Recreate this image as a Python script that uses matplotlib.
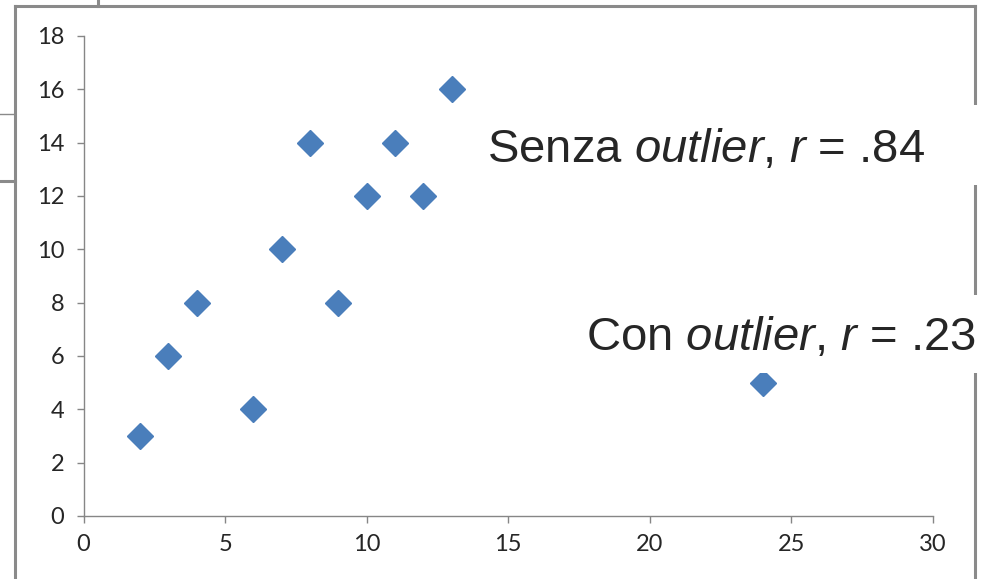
import matplotlib
matplotlib.use('Agg')
import matplotlib.pyplot as plt
from matplotlib.lines import Line2D
from matplotlib.patches import Rectangle

# data
x_vals = [2, 3, 4, 6, 7, 8, 9, 10, 11, 12, 13, 24]
y_vals = [3, 6, 8, 4, 10, 14, 8, 12, 14, 12, 16, 5]
x_ticks = [0, 5, 10, 15, 20, 25, 30]
y_ticks = [0, 2, 4, 6, 8, 10, 12, 14, 16, 18]
label_without = r"Senza $\mathit{outlier}$, $\mathit{r}$ = .84"
label_with = r"Con $\mathit{outlier}$, $\mathit{r}$ = .23"

plt.rcParams['mathtext.fontset'] = 'custom'
plt.rcParams['mathtext.rm'] = 'Liberation Sans'
plt.rcParams['mathtext.it'] = 'Liberation Sans:italic'

W, H = 992, 579
fig = plt.figure(figsize=(W / 100, H / 100), dpi=100)
ax = fig.add_axes([83.5 / W, 1 - 516 / H, 849.5 / W, 480 / H])

ax.plot(x_vals, y_vals, linestyle='none', marker='D', markersize=13,
        color='#4A7EBB', markeredgecolor='#4A7EBB')

ax.set_xlim(0, 30)
ax.set_ylim(0, 18)
ax.set_xticks(x_ticks)
ax.set_yticks(y_ticks)
for s in ('top', 'right'):
    ax.spines[s].set_visible(False)
for s in ('left', 'bottom'):
    ax.spines[s].set_color('#868686')
    ax.spines[s].set_linewidth(1.0)
ax.tick_params(colors='#868686', length=5, width=1.0, labelcolor='#262626',
               labelsize=17)
ax.tick_params(axis='y', pad=9)
ax.tick_params(axis='x', pad=8)
for lab in ax.get_xticklabels() + ax.get_yticklabels():
    lab.set_fontfamily('Lato')


def px(x, y):
    return x / W, 1 - y / H


# outer frame and stray slide lines
frame = '#8A8A8A'
segments = [
    ((14.5, 6), (14.5, 579), 2.2),
    ((14.5, 6), (975, 6), 2.2),
    ((975, 6), (975, 579), 2.2),
    ((98, 0), (98, 6), 2.2),
    ((0, 114), (14.5, 114), 1.0),
    ((0, 181), (14.5, 181), 2.2),
]
for (x0, y0), (x1, y1), lw in segments:
    (fx0, fy0), (fx1, fy1) = px(x0, y0), px(x1, y1)
    fig.add_artist(Line2D([fx0, fx1], [fy0, fy1], color=frame, lw=lw,
                          transform=fig.transFigure, zorder=1))

# white text boxes covering the frame
for (x0, y0, x1, y1) in [(470, 105, 992, 185), (570, 295, 992, 373)]:
    fx0, fy1 = px(x0, y1)
    fx1, fy0 = px(x1, y0)
    fig.add_artist(Rectangle((fx0, fy1), fx1 - fx0, fy0 - fy1, facecolor='white',
                             edgecolor='none', transform=fig.transFigure, zorder=2))

tx, ty = px(487, 150)
fig.text(tx, ty, label_without, fontsize=34, family='Liberation Sans',
         color='#262626', ha='left', va='center', zorder=3)
tx, ty = px(586, 338)
fig.text(tx, ty, label_with, fontsize=34, family='Liberation Sans',
         color='#262626', ha='left', va='center', zorder=3)

fig.savefig('out.png', dpi=100)
